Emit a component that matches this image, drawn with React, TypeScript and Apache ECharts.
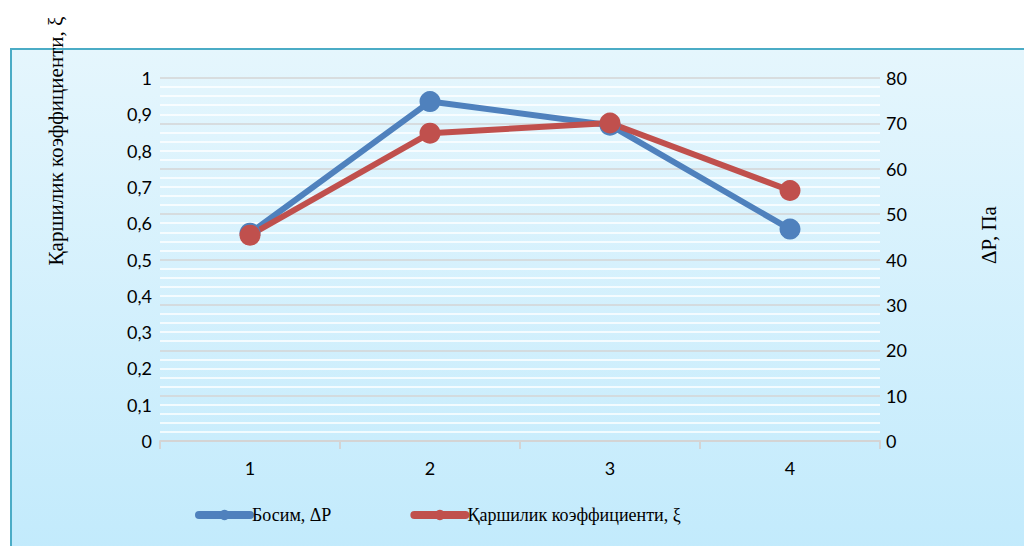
import React, { useEffect, useRef } from "react";
import * as echarts from "echarts";

const categories = ["1", "2", "3", "4"];
const pressure = [45.8, 74.8, 69.6, 46.7];
const resistance = [0.567, 0.848, 0.876, 0.69];
const pressureName = "Босим, ΔP";
const resistanceName = "Қаршилик коэффициенти, ξ";
const rightTitle = "ΔP, Па";

const SERIF = "'Times New Roman', 'Liberation Serif', serif";

export default function App() {
  const ref = useRef<HTMLDivElement>(null);
  useEffect(() => {
    if (!ref.current) return;
    const chart = echarts.init(ref.current, undefined, { renderer: "svg" });
    const labelFont = { fontFamily: "Lato", fontSize: 18, color: "#000000" };
    chart.setOption({
      animation: false,
      graphic: [
        {
          type: "rect",
          z: -10,
          silent: true,
          shape: { x: 11, y: 49, width: 1030, height: 520 },
          style: {
            fill: new echarts.graphic.LinearGradient(0, 0, 0, 1, [
              { offset: 0, color: "#e5f6fd" },
              { offset: 1, color: "#c1eafc" },
            ]),
            stroke: "#4bacc6",
            lineWidth: 2,
          },
        },
        {
          type: "text",
          x: 56,
          y: 141,
          rotation: Math.PI / 2,
          style: {
            text: resistanceName,
            fontFamily: SERIF,
            fontSize: 21,
            fill: "#000",
            align: "center",
            verticalAlign: "middle",
          },
        },
        {
          type: "text",
          x: 989,
          y: 235,
          rotation: Math.PI / 2,
          style: {
            text: rightTitle,
            fontFamily: SERIF,
            fontSize: 21,
            fill: "#000",
            align: "center",
            verticalAlign: "middle",
          },
        },
      ],
      grid: { left: 160, right: 144, top: 78, bottom: 105, containLabel: false },
      legend: {
        bottom: 17,
        left: 190,
        itemGap: 79,
        itemWidth: 51,
        itemHeight: 13,
        lineStyle: { width: 8, cap: "round" },
        textStyle: {
          fontFamily: SERIF,
          fontSize: 18,
          color: "#000",
          padding: [0, 0, 0, -3],
        },
        data: [pressureName, resistanceName],
      },
      xAxis: {
        type: "category",
        data: categories,
        boundaryGap: true,
        axisLine: { lineStyle: { color: "#d4d4d4", width: 2 } },
        axisTick: { show: true, length: 8, lineStyle: { color: "#d4d4d4", width: 2 } },
        axisLabel: { ...labelFont, margin: 18 },
        splitLine: { show: false },
      },
      yAxis: [
        {
          type: "value",
          min: 0,
          max: 1,
          interval: 0.1,
          position: "left",
          axisLine: { show: false },
          axisTick: { show: false },
          splitLine: { show: false },
          axisLabel: {
            ...labelFont,
            margin: 8,
            formatter: (v: number) => String(Math.round(v * 10) / 10).replace(".", ","),
          },
        },
        {
          type: "value",
          min: 0,
          max: 80,
          interval: 10,
          position: "right",
          axisLine: { show: false },
          axisTick: { show: false },
          axisLabel: { ...labelFont, margin: 6 },
          splitLine: { show: true, lineStyle: { color: "#d4d4d4", width: 1.5 } },
          minorTick: { show: false, splitNumber: 5 },
          minorSplitLine: { show: true, lineStyle: { color: "#ffffff", width: 1.5 } },
        },
      ],
      series: [
        {
          name: pressureName,
          type: "line",
          yAxisIndex: 1,
          data: pressure,
          symbol: "circle",
          symbolSize: 21,
          lineStyle: { color: "#4f81bd", width: 6 },
          itemStyle: { color: "#4f81bd" },
        },
        {
          name: resistanceName,
          type: "line",
          yAxisIndex: 0,
          data: resistance,
          symbol: "circle",
          symbolSize: 21,
          lineStyle: { color: "#c0504d", width: 6 },
          itemStyle: { color: "#c0504d" },
        },
      ],
    });
    return () => chart.dispose();
  }, []);
  return (
    <div
      ref={ref}
      style={{ position: "fixed", left: 0, top: 0, width: 1024, height: 546, background: "#ffffff" }}
    />
  );
}
